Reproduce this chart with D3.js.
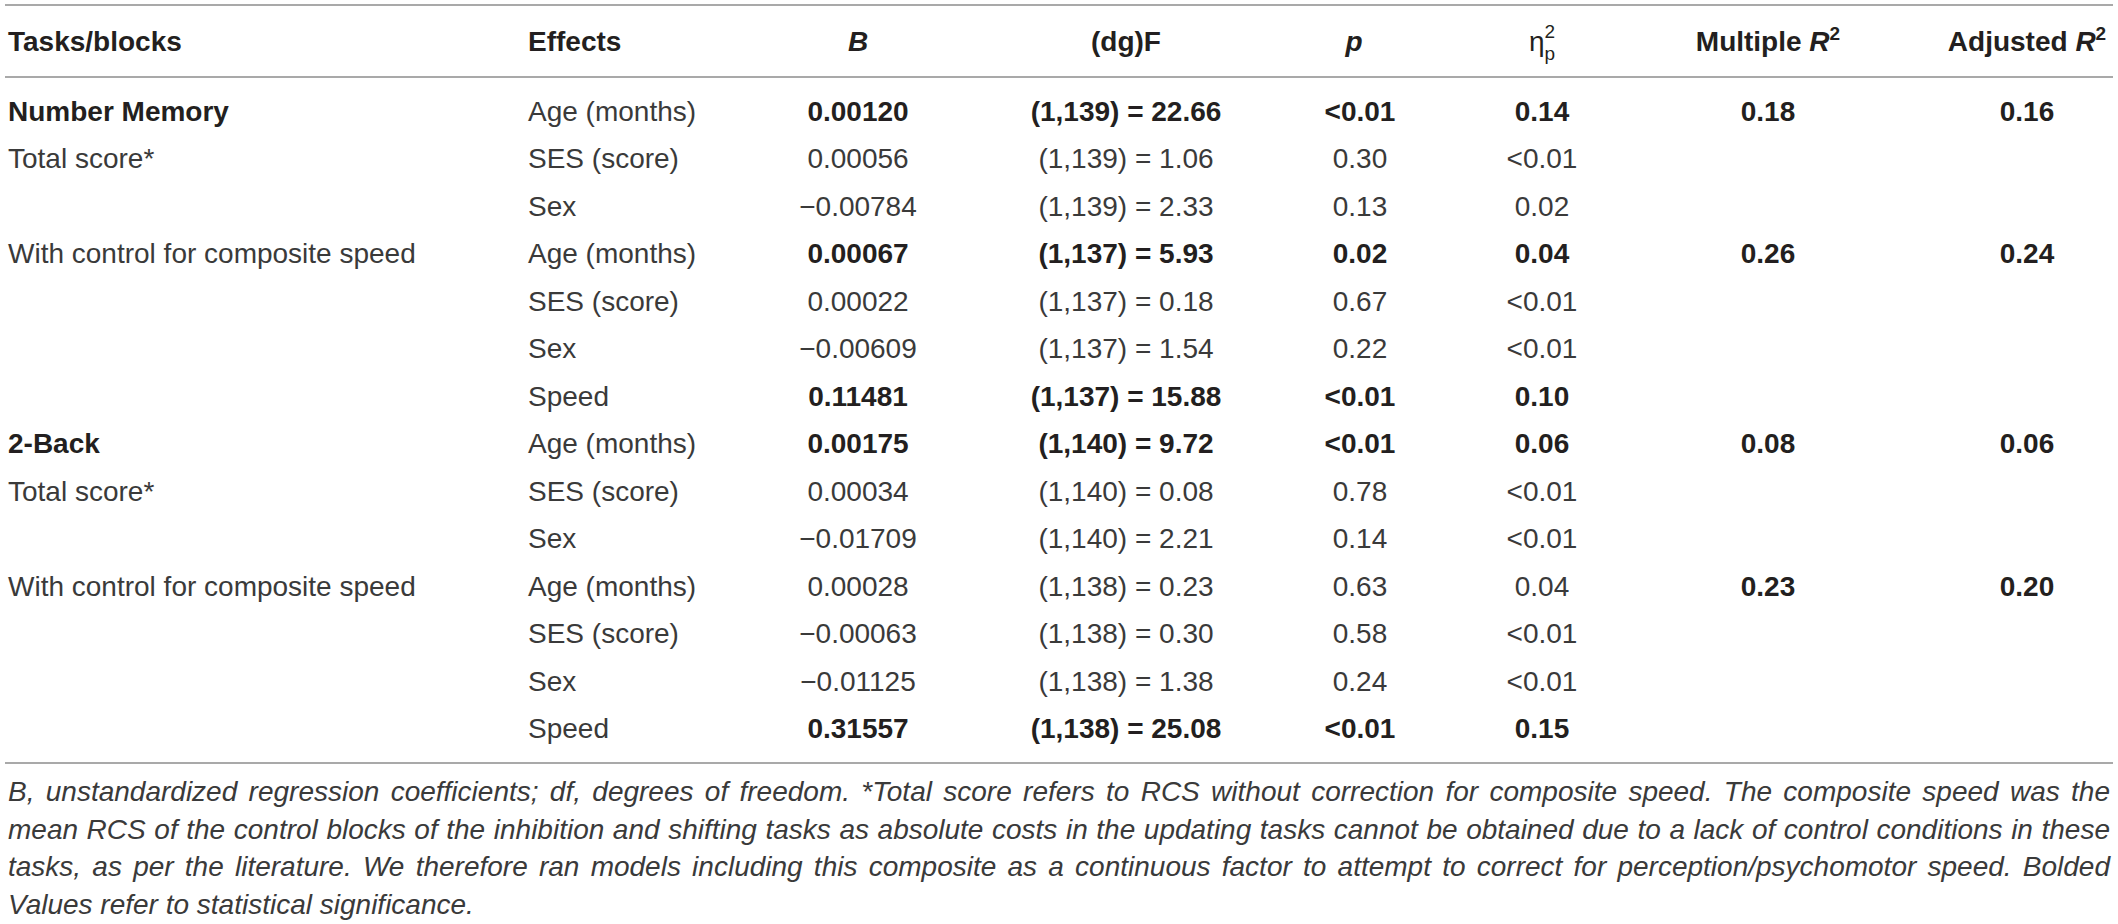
<!DOCTYPE html>
<html>
<head>
<meta charset="utf-8">
<script src="https://cdn.jsdelivr.net/npm/d3@7/dist/d3.min.js"></script>
<style>
  body { margin: 0; background: #fff; }
  text { font-family: "Liberation Sans", Arial, sans-serif; }
</style>
</head>
<body>
<svg width="2118" height="924"></svg>
<script>
"use strict";
// table content, row by row
const tasks = ["Number Memory", "Total score*", "", "With control for composite speed", "", "", "",
    "2-Back", "Total score*", "", "With control for composite speed", "", "", ""];
const taskBold = [true, false, false, false, false, false, false, true, false, false, false, false, false, false];
const effects = ["Age (months)", "SES (score)", "Sex", "Age (months)", "SES (score)", "Sex", "Speed",
    "Age (months)", "SES (score)", "Sex", "Age (months)", "SES (score)", "Sex", "Speed"];
const bValues = ["0.00120", "0.00056", "\u22120.00784", "0.00067", "0.00022", "\u22120.00609", "0.11481",
    "0.00175", "0.00034", "\u22120.01709", "0.00028", "\u22120.00063", "\u22120.01125", "0.31557"];
const dfValues = ["(1,139)", "(1,139)", "(1,139)", "(1,137)", "(1,137)", "(1,137)", "(1,137)",
    "(1,140)", "(1,140)", "(1,140)", "(1,138)", "(1,138)", "(1,138)", "(1,138)"];
const fValues = ["22.66", "1.06", "2.33", "5.93", "0.18", "1.54", "15.88",
    "9.72", "0.08", "2.21", "0.23", "0.30", "1.38", "25.08"];
const pValues = ["<0.01", "0.30", "0.13", "0.02", "0.67", "0.22", "<0.01",
    "<0.01", "0.78", "0.14", "0.63", "0.58", "0.24", "<0.01"];
const etaValues = ["0.14", "<0.01", "0.02", "0.04", "<0.01", "<0.01", "0.10",
    "0.06", "<0.01", "<0.01", "0.04", "<0.01", "<0.01", "0.15"];
const multipleR2 = ["0.18", "", "", "0.26", "", "", "", "0.08", "", "", "0.23", "", "", ""];
const adjustedR2 = ["0.16", "", "", "0.24", "", "", "", "0.06", "", "", "0.20", "", "", ""];
const significant = [true, false, false, true, false, false, true, true, false, false, false, false, false, true];
const footnoteLines = [
    "B, unstandardized regression coefficients; df, degrees of freedom. *Total score refers to RCS without correction for composite speed. The composite speed was the",
    "mean RCS of the control blocks of the inhibition and shifting tasks as absolute costs in the updating tasks cannot be obtained due to a lack of control conditions in these",
    "tasks, as per the literature. We therefore ran models including this composite as a continuous factor to attempt to correct for perception/psychomotor speed. Bolded",
    "Values refer to statistical significance."
];

const svg = d3.select("svg");
const width = 2118;
const fontSize = 28;
const darkInk = "#231f20";
const lightInk = "#3a3a3a";
const ruleColor = "#a9a9a9";

const rows = d3.range(tasks.length);
const y = d3.scalePoint()
    .domain(rows)
    .range([111, 728]);

const colKeys = ["task", "effect", "b", "f", "p", "eta", "mr2", "ar2"];
const colX = d3.scaleOrdinal()
    .domain(colKeys)
    .range([8, 528, 858, 1126, 1360, 1542, 1768, 2027]);
const colAnchor = d3.scaleOrdinal()
    .domain(colKeys)
    .range(["start", "start", "middle", "middle", "middle", "middle", "middle", "middle"]);

// horizontal rules
svg.append("g")
    .attr("class", "rules")
    .selectAll("line")
    .data([5, 77, 763])
    .enter()
    .append("line")
    .attr("x1", 5)
    .attr("x2", width - 5)
    .attr("y1", d => d)
    .attr("y2", d => d)
    .style("stroke", ruleColor)
    .style("stroke-width", 2);

// header
const header = svg.append("g")
    .attr("class", "header")
    .style("font-size", `${fontSize}px`)
    .style("fill", darkInk)
    .style("font-weight", "bold");
const headerY = 51;
header.append("text").attr("x", colX("task")).attr("y", headerY).text("Tasks/blocks");
header.append("text").attr("x", colX("effect")).attr("y", headerY).text("Effects");
header.append("text").attr("x", colX("b")).attr("y", headerY)
    .attr("text-anchor", "middle").style("font-style", "italic").text("B");
header.append("text").attr("x", colX("f")).attr("y", headerY)
    .attr("text-anchor", "middle").text("(dg)F");
header.append("text").attr("x", colX("p") - 6).attr("y", headerY)
    .attr("text-anchor", "middle").style("font-style", "italic").text("p");
const eta = header.append("text").attr("x", colX("eta")).attr("y", headerY)
    .attr("text-anchor", "middle").style("font-weight", "normal");
eta.append("tspan").text("\u03b7");
eta.append("tspan").attr("dy", -13).style("font-size", "19px").text("2");
eta.append("tspan").attr("dx", -10.5).attr("dy", 22).style("font-size", "19px").text("p");
[["mr2", "Multiple "], ["ar2", "Adjusted "]].forEach(([key, label]) => {
    const t = header.append("text").attr("x", colX(key)).attr("y", headerY)
        .attr("text-anchor", "middle");
    t.append("tspan").text(label);
    t.append("tspan").style("font-style", "italic").text("R");
    t.append("tspan").attr("dy", -11).style("font-size", "19px").text("2");
});

// body cells
const cells = [];
rows.forEach(i => {
    cells.push({ row: i, key: "task", text: tasks[i], bold: taskBold[i] });
    cells.push({ row: i, key: "effect", text: effects[i], bold: false });
    cells.push({ row: i, key: "b", text: bValues[i], bold: significant[i] });
    cells.push({ row: i, key: "f", text: `${dfValues[i]} = ${fValues[i]}`, bold: significant[i] });
    cells.push({ row: i, key: "p", text: pValues[i], bold: significant[i] });
    cells.push({ row: i, key: "eta", text: etaValues[i], bold: significant[i] });
    cells.push({ row: i, key: "mr2", text: multipleR2[i], bold: true });
    cells.push({ row: i, key: "ar2", text: adjustedR2[i], bold: true });
});

svg.append("g")
    .attr("class", "body")
    .style("font-size", `${fontSize}px`)
    .selectAll("text")
    .data(cells.filter(d => d.text !== ""))
    .enter()
    .append("text")
    .attr("x", d => colX(d.key))
    .attr("y", d => y(d.row) + 10)
    .attr("text-anchor", d => colAnchor(d.key))
    .style("font-weight", d => d.bold ? "bold" : "normal")
    .style("fill", d => d.bold ? darkInk : lightInk)
    .text(d => d.text);

// footnote, justified except the last line
const footnote = svg.append("g")
    .attr("class", "footnote")
    .style("font-size", `${fontSize}px`)
    .style("font-style", "italic")
    .style("fill", lightInk);
const noteLeft = 8;
const noteRight = width - 8;
footnote.selectAll("text")
    .data(footnoteLines)
    .enter()
    .append("text")
    .attr("x", noteLeft)
    .attr("y", (d, i) => 801 + i * 37.5)
    .text(d => d)
    .each(function (d, i) {
    if (i === footnoteLines.length - 1) {
        return;
    }
    const spaces = d.split(" ").length - 1;
    const len = this.getComputedTextLength();
    d3.select(this).style("word-spacing", `${(noteRight - noteLeft - len) / spaces}px`);
});
</script>
</body>
</html>
